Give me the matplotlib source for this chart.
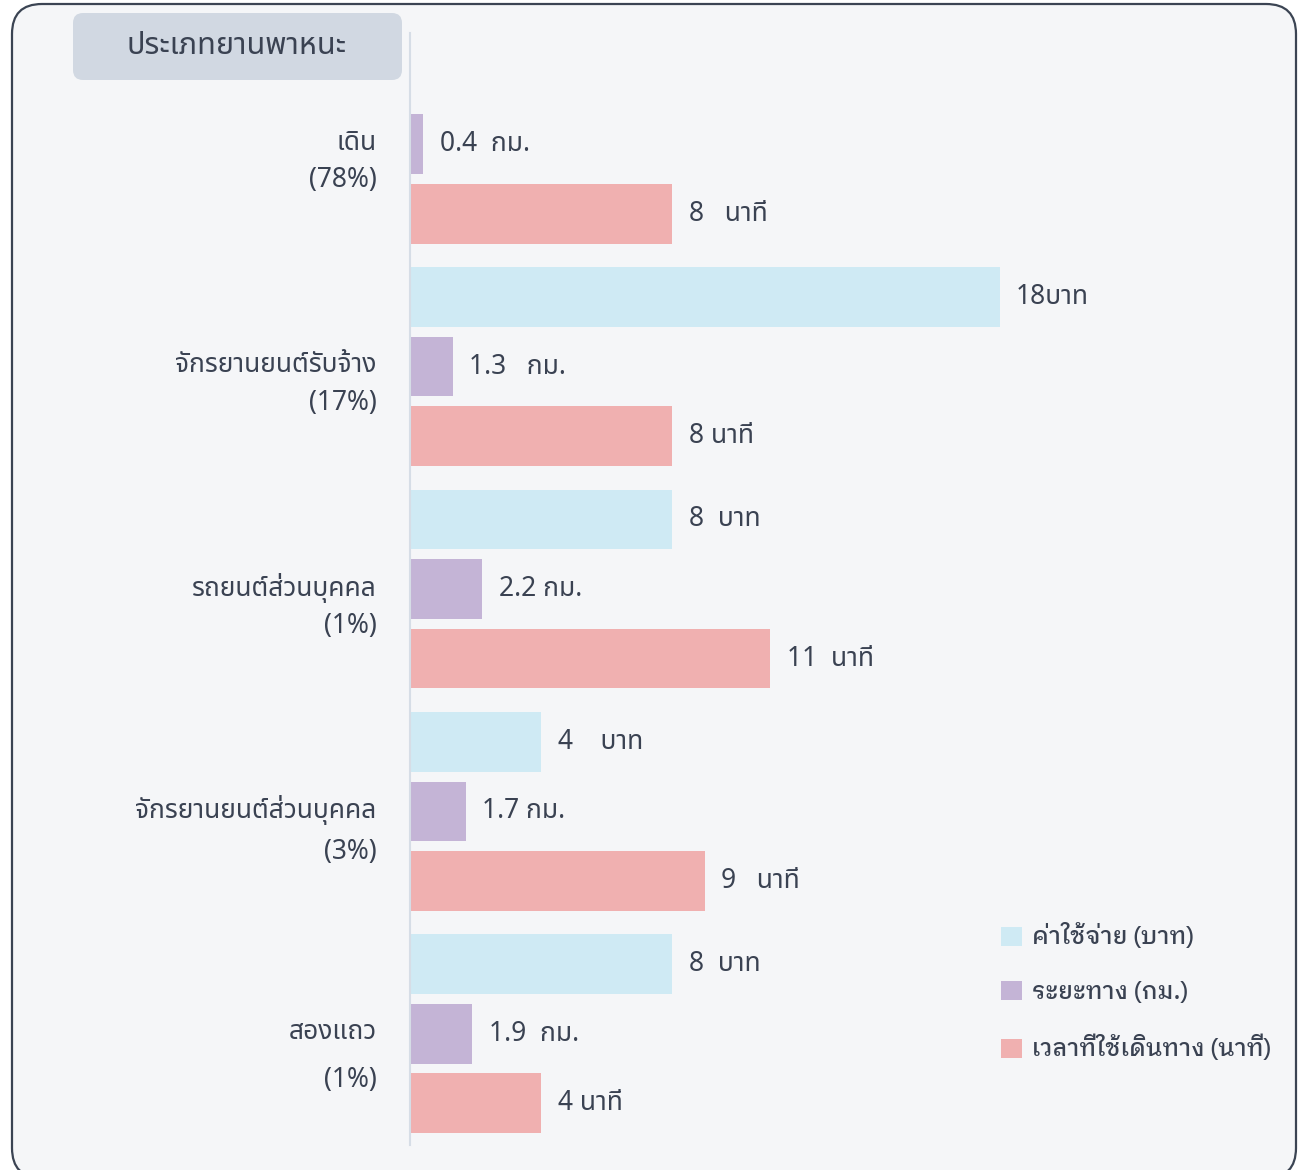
import matplotlib
matplotlib.use('Agg')
import matplotlib.pyplot as plt
from matplotlib import font_manager as fm
from matplotlib.patches import FancyBboxPatch, Patch

# ---- data ----
categories = ['เดิน', 'จักรยานยนต์รับจ้าง', 'รถยนต์ส่วนบุคคล', 'จักรยานยนต์ส่วนบุคคล', 'สองแถว']
shares = ['(78%)', '(17%)', '(1%)', '(3%)', '(1%)']
cost = [0, 18, 8, 4, 8]            # บาท (walking has no cost bar)
distance = [0.4, 1.3, 2.2, 1.7, 1.9]  # กม.
duration = [8, 8, 11, 9, 4]        # นาที
cost_labels = ['', '18บาท', '8  บาท', '4    บาท', '8  บาท']
distance_labels = ['0.4  กม.', '1.3   กม.', '2.2 กม.', '1.7 กม.', '1.9  กม.']
duration_labels = ['8   นาที', '8 นาที', '11  นาที', '9   นาที', '4 นาที']
series_names = ['ค่าใช้จ่าย (บาท)', 'ระยะทาง (กม.)', 'เวลาที่ใช้เดินทาง (นาที)']
header = 'ประเภทยานพาหนะ'

colors = ['#cfeaf4', '#c4b4d6', '#f0b0b0']
text_color = '#3a4252'

# ---- fonts ----
installed = {f.name for f in fm.fontManager.ttflist}


def pick(cands):
    for c in cands:
        if c in installed:
            return c
    return 'DejaVu Sans'


thai = pick(['Noto Sans Thai', 'Noto Sans Thai UI', 'IBM Plex Sans Thai', 'Anuphan', 'Sarabun'])
thai_looped = pick(['IBM Plex Sans Thai Looped', 'Noto Sans Thai Looped', 'Sarabun', thai])
plt.rcParams['font.family'] = [thai, 'DejaVu Sans']

W, H = 1302, 1170
fig = plt.figure(figsize=(W / 100, H / 100), dpi=100)
fig.patch.set_facecolor('white')

# rounded card behind everything (inch coordinates keep the corners round)
card = FancyBboxPatch((0.12, -0.08), 12.84, 11.74, boxstyle='round,pad=0,rounding_size=0.3',
                      transform=fig.dpi_scale_trans, facecolor='#f5f6f8', edgecolor='#3b4453',
                      linewidth=1.6, zorder=-2)
fig.patches.append(card)

head = FancyBboxPatch((0.73, (H - 80) / 100), 3.29, 0.67, boxstyle='round,pad=0,rounding_size=0.1',
                      transform=fig.dpi_scale_trans, facecolor='#d1d8e2', edgecolor='none', zorder=-1)
fig.patches.append(head)
fig.text(237 / W, 1 - 46 / H, header, ha='center', va='center', fontsize=22,
         fontweight='bold', color=text_color)

# ---- axes ----
ax = fig.add_axes([410 / W, 25 / H, 850 / W, 1112 / H])
ax.set_facecolor('none')
ax.set_xlim(0, 850 / 32.75)
ax.set_ylim(15.4, -0.6)

gap = 3.2
series = [cost, distance, duration]
labels = [cost_labels, distance_labels, duration_labels]
for k in range(3):
    ys = [i * gap + k for i in range(len(categories))]
    vals = series[k]
    ax.barh(ys, vals, height=0.86, color=colors[k], label=series_names[k], zorder=2)
    for y, v, t in zip(ys, vals, labels[k]):
        if t:
            ax.annotate(t, xy=(v, y), xytext=(12, 0), textcoords='offset points',
                        va='center', ha='left', fontsize=19, color=text_color)

ax.set_yticks([i * gap + 1.13 for i in range(len(categories))])
ax.set_yticklabels([c + '\n' + s for c, s in zip(categories, shares)], fontsize=19,
                   color=text_color)
for lab, ls in zip(ax.get_yticklabels(), [1.45, 1.45, 1.45, 1.6, 1.95]):
    lab.set_linespacing(ls)
ax.tick_params(axis='y', length=0, pad=24)
ax.set_xticks([])
for side in ['top', 'right', 'bottom']:
    ax.spines[side].set_visible(False)
ax.spines['left'].set_color('#d6dde6')
ax.spines['left'].set_linewidth(1.5)

handles = [Patch(facecolor=c, edgecolor='none') for c in colors]
ax.legend(handles, series_names, loc='upper left', bbox_to_anchor=(992 / W, 1 - 914 / H),
          bbox_transform=fig.transFigure, frameon=False, handlelength=0.85, handleheight=0.85,
          labelspacing=1.32, handletextpad=0.45, borderaxespad=0,
          prop={'family': [thai_looped, 'DejaVu Sans'], 'size': 17, 'weight': 'medium'},
          labelcolor=text_color)

fig.savefig('out.png', dpi=100)
